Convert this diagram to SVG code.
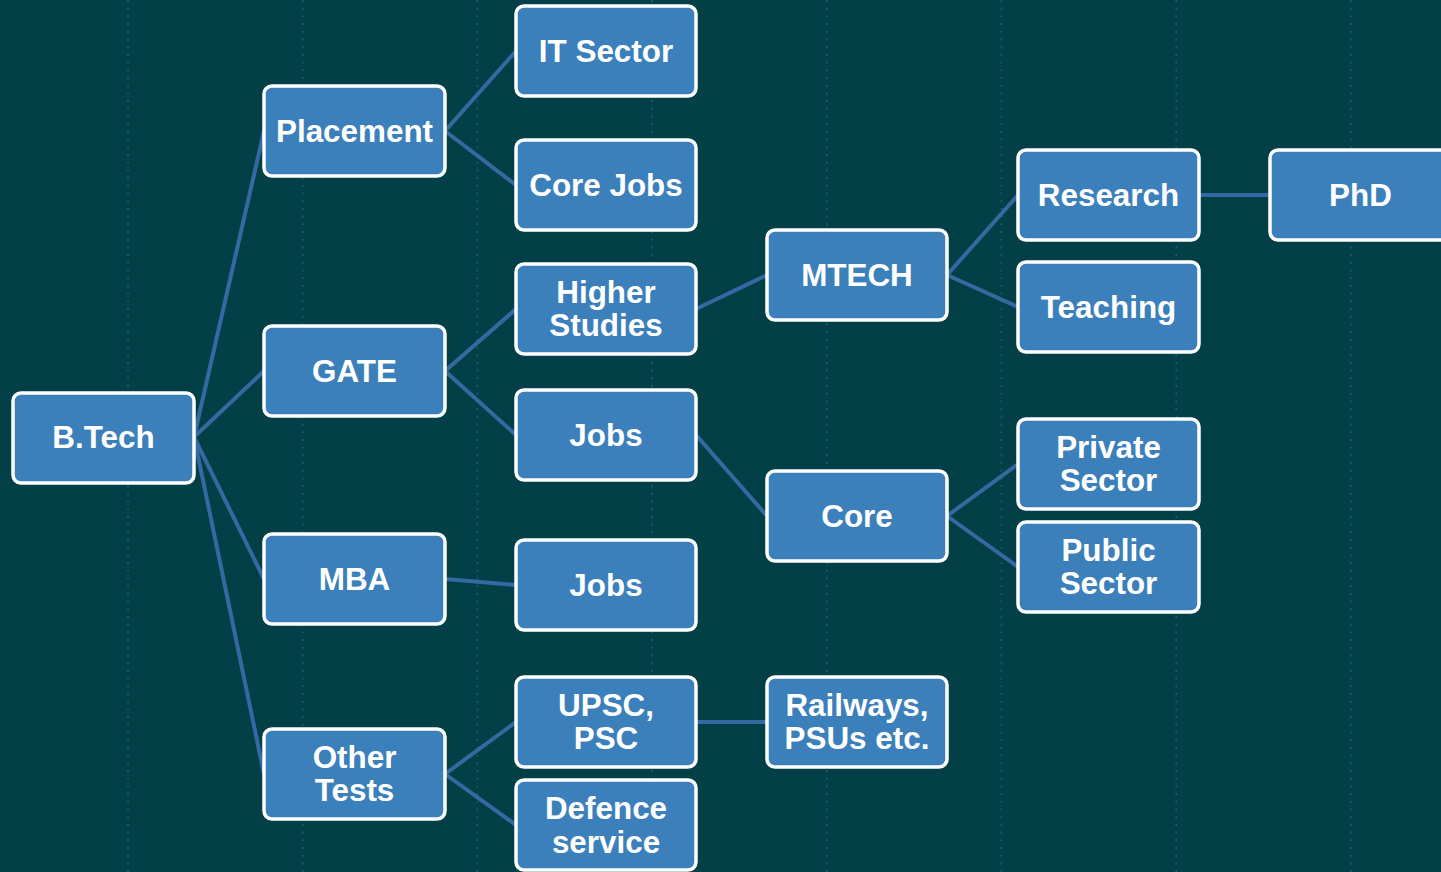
<svg xmlns="http://www.w3.org/2000/svg" width="1441" height="872" viewBox="0 0 1441 872">
<style>
.bg{fill:#033f47}
.grid line{stroke:#0e6670;stroke-width:1.6;stroke-dasharray:2 5.7}
.node rect{fill:#3b80bb;stroke:#ffffff;stroke-width:3.5}
.node text{fill:#ffffff;font-family:"Liberation Sans",Arial,sans-serif;font-weight:bold;font-size:31.4px;text-anchor:middle}
#connectors line{stroke:#3569a1;stroke-width:4}
</style>
<rect class="bg" x="0" y="0" width="1441" height="872"/>
<g class="grid">
<line x1="128" y1="0" x2="128" y2="872"/>
<line x1="302.7" y1="0" x2="302.7" y2="872"/>
<line x1="477.4" y1="0" x2="477.4" y2="872"/>
<line x1="652.1" y1="0" x2="652.1" y2="872"/>
<line x1="826.8" y1="0" x2="826.8" y2="872"/>
<line x1="1001.5" y1="0" x2="1001.5" y2="872"/>
<line x1="1176.2" y1="0" x2="1176.2" y2="872"/>
<line x1="1351" y1="0" x2="1351" y2="872"/>
</g>
<g id="connectors">
<line x1="194" y1="437" x2="264" y2="131"/>
<line x1="194" y1="437" x2="264" y2="371"/>
<line x1="194" y1="437" x2="264" y2="579"/>
<line x1="194" y1="437" x2="264" y2="774"/>
<line x1="445" y1="131" x2="516" y2="51"/>
<line x1="445" y1="131" x2="516" y2="185"/>
<line x1="445" y1="371" x2="516" y2="309"/>
<line x1="445" y1="371" x2="516" y2="435"/>
<line x1="445" y1="579" x2="516" y2="585"/>
<line x1="445" y1="774" x2="516" y2="722"/>
<line x1="445" y1="774" x2="516" y2="825"/>
<line x1="696" y1="309" x2="767" y2="275"/>
<line x1="696" y1="435" x2="767" y2="516"/>
<line x1="696" y1="722" x2="767" y2="722"/>
<line x1="947" y1="275" x2="1018" y2="195"/>
<line x1="947" y1="275" x2="1018" y2="307"/>
<line x1="947" y1="516" x2="1018" y2="464"/>
<line x1="947" y1="516" x2="1018" y2="567"/>
<line x1="1199" y1="195" x2="1270" y2="195"/>
</g>
<g id="n-btech" class="node"><rect x="13" y="393" width="181" height="90" rx="8"/><text x="103.5" y="447.5">B.Tech</text></g>
<g id="n-placement" class="node"><rect x="264" y="86" width="181" height="90" rx="8"/><text x="354.5" y="141.5">Placement</text></g>
<g id="n-gate" class="node"><rect x="264" y="326" width="181" height="90" rx="8"/><text x="354.5" y="381.5">GATE</text></g>
<g id="n-mba" class="node"><rect x="264" y="534" width="181" height="90" rx="8"/><text x="354.5" y="589.5">MBA</text></g>
<g id="n-other" class="node"><rect x="264" y="729" width="181" height="90" rx="8"/><text x="354.5" y="768">Other</text><text x="354.5" y="801">Tests</text></g>
<g id="n-it" class="node"><rect x="516" y="6" width="180" height="90" rx="8"/><text x="606" y="61.5">IT Sector</text></g>
<g id="n-corejobs" class="node"><rect x="516" y="140" width="180" height="90" rx="8"/><text x="606" y="195.5">Core Jobs</text></g>
<g id="n-higher" class="node"><rect x="516" y="264" width="180" height="90" rx="8"/><text x="606" y="303">Higher</text><text x="606" y="336">Studies</text></g>
<g id="n-jobs1" class="node"><rect x="516" y="390" width="180" height="90" rx="8"/><text x="606" y="445.5">Jobs</text></g>
<g id="n-jobs2" class="node"><rect x="516" y="540" width="180" height="90" rx="8"/><text x="606" y="595.5">Jobs</text></g>
<g id="n-upsc" class="node"><rect x="516" y="677" width="180" height="90" rx="8"/><text x="606" y="716">UPSC,</text><text x="606" y="749">PSC</text></g>
<g id="n-defence" class="node"><rect x="516" y="780" width="180" height="90" rx="8"/><text x="606" y="819">Defence</text><text x="606" y="853">service</text></g>
<g id="n-mtech" class="node"><rect x="767" y="230" width="180" height="90" rx="8"/><text x="857" y="285.5">MTECH</text></g>
<g id="n-core" class="node"><rect x="767" y="471" width="180" height="90" rx="8"/><text x="857" y="526.5">Core</text></g>
<g id="n-railways" class="node"><rect x="767" y="677" width="180" height="90" rx="8"/><text x="857" y="716">Railways,</text><text x="857" y="749">PSUs etc.</text></g>
<g id="n-research" class="node"><rect x="1018" y="150" width="181" height="90" rx="8"/><text x="1108.5" y="205.5">Research</text></g>
<g id="n-teaching" class="node"><rect x="1018" y="262" width="181" height="90" rx="8"/><text x="1108.5" y="317.5">Teaching</text></g>
<g id="n-private" class="node"><rect x="1018" y="419" width="181" height="90" rx="8"/><text x="1108.5" y="458">Private</text><text x="1108.5" y="491">Sector</text></g>
<g id="n-public" class="node"><rect x="1018" y="522" width="181" height="90" rx="8"/><text x="1108.5" y="561">Public</text><text x="1108.5" y="594">Sector</text></g>
<g id="n-phd" class="node"><rect x="1270" y="150" width="181" height="90" rx="8"/><text x="1360.5" y="205.5">PhD</text></g>
</svg>
